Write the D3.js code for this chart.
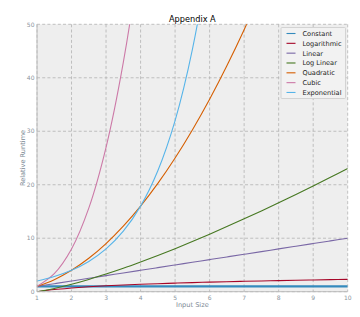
<!DOCTYPE html>
<html>
<head>
<meta charset="utf-8">
<script src="https://cdn.jsdelivr.net/npm/d3@7"></script>
<style>
  body { margin: 0; background: #fff; }
  svg { display: block; font-family: "DejaVu Sans", sans-serif; }
  .tick-label { fill: #8a949c; font-size: 6px; }
  .axis-label { fill: #7a8894; font-size: 6.6px; }
</style>
</head>
<body>
<div id="chart"></div>
<script>
// input sizes sampled along the x axis
var inputSize = [1, 1.5, 2, 2.5, 3, 3.5, 4, 4.5, 5, 5.5, 6, 6.5, 7, 7.5, 8, 8.5, 9, 9.5, 10];

var constantVals = [1, 1, 1, 1, 1, 1, 1, 1, 1, 1, 1, 1, 1, 1, 1, 1, 1, 1, 1];
var logVals = [0, 0.41, 0.69, 0.92, 1.10, 1.25, 1.39, 1.50, 1.61, 1.70, 1.79, 1.87, 1.95, 2.01, 2.08, 2.14, 2.20, 2.25, 2.30];
var linearVals = [1, 1.5, 2, 2.5, 3, 3.5, 4, 4.5, 5, 5.5, 6, 6.5, 7, 7.5, 8, 8.5, 9, 9.5, 10];
var logLinearVals = [0, 0.61, 1.39, 2.29, 3.30, 4.38, 5.55, 6.77, 8.05, 9.38, 10.75, 12.17, 13.62, 15.11, 16.64, 18.19, 19.78, 21.39, 23.03];
var quadraticVals = [1, 2.25, 4, 6.25, 9, 12.25, 16, 20.25, 25, 30.25, 36, 42.25, 49, 56.25, 64, 72.25, 81, 90.25, 100];
var cubicVals = [1, 3.38, 8, 15.63, 27, 42.88, 64, 91.13, 125, 166.38, 216, 274.63, 343, 421.88, 512, 614.13, 729, 857.38, 1000];
var expVals = [2, 2.83, 4, 5.66, 8, 11.31, 16, 22.63, 32, 45.25, 64, 90.51, 128, 181.02, 256, 362.04, 512, 724.08, 1024];

var seriesNames = ['Constant', 'Logarithmic', 'Linear', 'Log Linear', 'Quadratic', 'Cubic', 'Exponential'];
var seriesValues = [constantVals, logVals, linearVals, logLinearVals, quadraticVals, cubicVals, expVals];
var seriesColors = ['#348ABD', '#A60628', '#7A68A6', '#467821', '#D55E00', '#CC79A7', '#56B4E9'];

var xTicks = [1, 2, 3, 4, 5, 6, 7, 8, 9, 10];
var yTicks = [0, 10, 20, 30, 40, 50];

var width = 360, height = 317;
var margin = {top: 24.3, right: 12.3, bottom: 25.3, left: 37};
var plotW = width - margin.left - margin.right;
var plotH = height - margin.top - margin.bottom;

var svg = d3.select('#chart')
    .append('svg')
    .attr('width', width)
    .attr('height', height);

var x = d3.scaleLinear().domain([1, 10]).range([0, plotW]);
var y = d3.scaleLinear().domain([0, 50]).range([plotH, 0]);

var g = svg.append('g')
    .attr('transform', 'translate(' + margin.left + ',' + margin.top + ')');

g.append('rect')
    .attr('width', plotW)
    .attr('height', plotH)
    .style('fill', '#eeeeee');

svg.append('defs').append('clipPath')
    .attr('id', 'plot-clip')
    .append('rect')
    .attr('width', plotW)
    .attr('height', plotH);

// grid
g.selectAll('.xgrid')
    .data(xTicks)
    .enter()
    .append('line')
    .attr('x1', (d) => x(d))
    .attr('x2', (d) => x(d))
    .attr('y1', 0)
    .attr('y2', plotH)
    .style('stroke', '#b2b2b2')
    .style('stroke-width', 0.8)
    .style('stroke-dasharray', '3,2.2');

g.selectAll('.ygrid')
    .data(yTicks)
    .enter()
    .append('line')
    .attr('x1', 0)
    .attr('x2', plotW)
    .attr('y1', (d) => y(d))
    .attr('y2', (d) => y(d))
    .style('stroke', '#b2b2b2')
    .style('stroke-width', 0.8)
    .style('stroke-dasharray', '3,2.2');

// lines
var line = d3.line()
    .x((d) => x(d[0]))
    .y((d) => y(d[1]))
    .curve(d3.curveCatmullRom.alpha(0.5));

var lines = g.append('g').attr('clip-path', 'url(#plot-clip)');
seriesValues.forEach(function (vals, i) {
    var pts = inputSize.map((v, j) => [v, vals[j]]);
    lines.append('path')
        .datum(pts)
        .attr('d', line)
        .style('fill', 'none')
        .style('stroke', seriesColors[i])
        .style('stroke-width', i == 0 ? 2.2 : 1.1);
});

// spines
g.append('line')
    .attr('x1', 0).attr('x2', 0).attr('y1', 0).attr('y2', plotH)
    .style('stroke', '#bcbcbc').style('stroke-width', 1);
g.append('line')
    .attr('x1', 0).attr('x2', plotW).attr('y1', plotH).attr('y2', plotH)
    .style('stroke', '#bcbcbc').style('stroke-width', 1);

// tick labels
g.selectAll('.xtick')
    .data(xTicks)
    .enter()
    .append('text')
    .attr('class', 'tick-label')
    .attr('x', (d) => x(d))
    .attr('y', plotH + 8)
    .attr('text-anchor', 'middle')
    .text((d) => d);

g.selectAll('.ytick')
    .data(yTicks)
    .enter()
    .append('text')
    .attr('class', 'tick-label')
    .attr('x', -2.5)
    .attr('y', (d) => y(d) + 2.2)
    .attr('text-anchor', 'end')
    .text((d) => d);

// axis labels and title
svg.append('text')
    .attr('class', 'axis-label')
    .attr('x', margin.left + plotW / 2)
    .attr('y', 306.5)
    .attr('text-anchor', 'middle')
    .text('Input Size');

svg.append('text')
    .attr('class', 'axis-label')
    .attr('transform', 'translate(25,' + (margin.top + plotH / 2) + ') rotate(-90)')
    .attr('text-anchor', 'middle')
    .text('Relative Runtime');

svg.append('text')
    .attr('x', margin.left + plotW / 2)
    .attr('y', 22)
    .attr('text-anchor', 'middle')
    .style('font-size', '8.2px')
    .style('fill', '#000')
    .text('Appendix A');

// legend
var legend = svg.append('g').attr('transform', 'translate(281,27.5)');
legend.append('rect')
    .attr('width', 64.5)
    .attr('height', 71)
    .attr('rx', 1)
    .style('fill', '#f2f2f2')
    .style('stroke', '#cccccc')
    .style('stroke-width', 0.8);

var items = legend.selectAll('.item')
    .data(seriesNames)
    .enter()
    .append('g')
    .attr('transform', (d, i) => 'translate(0,' + (6 + i * 9.83) + ')');

items.append('line')
    .attr('x1', 5.5).attr('x2', 14.5)
    .attr('y1', 0).attr('y2', 0)
    .style('stroke', (d, i) => seriesColors[i])
    .style('stroke-width', 1.1);

items.append('text')
    .attr('x', 21.5)
    .attr('y', 2.4)
    .style('font-size', '6.6px')
    .style('fill', '#222')
    .text((d) => d);
</script>
</body>
</html>
